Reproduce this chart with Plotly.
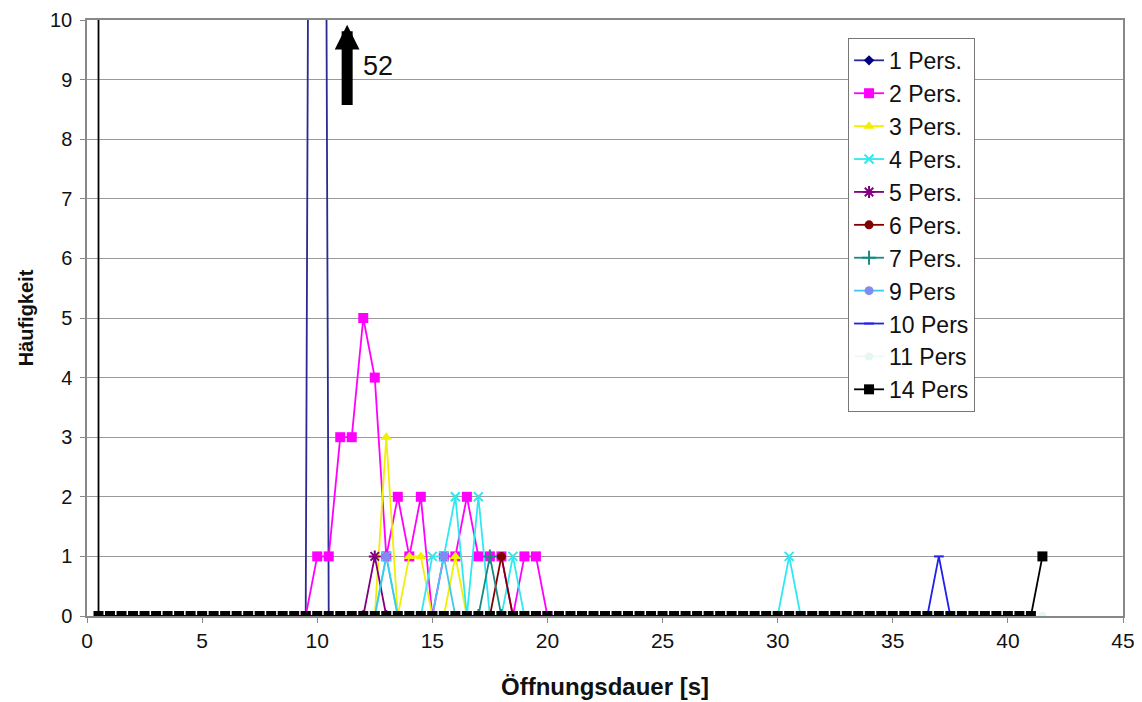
import plotly.graph_objects as go

# ---------------- data ----------------
# 1 Pers. : single huge peak (52) at 10 s, drawn off the top of the axis
x_1 = [9.5, 10.0, 10.5]
y_1 = [0, 52, 0]

x_2 = [9.5, 10.0, 10.5, 11.0, 11.5, 12.0, 12.5, 13.0, 13.5, 14.0, 14.5, 15.0,
       15.5, 16.0, 16.5, 17.0, 17.5, 18.0, 18.5, 19.0, 19.5, 20.0]
y_2 = [0, 1, 1, 3, 3, 5, 4, 1, 2, 1, 2, 0,
       1, 1, 2, 1, 1, 1, 0, 1, 1, 0]

x_3 = [12.5, 13.0, 13.5, 14.0, 14.5, 15.0, 15.5, 16.0, 16.5]
y_3 = [0, 3, 0, 1, 1, 0, 0, 1, 0]

x_4 = [12.5, 13.0, 13.5, 14.0, 14.5, 15.0, 15.5, 16.0, 16.5, 17.0, 17.5, 18.0,
       18.5, 19.0, 30.0, 30.5, 31.0]
y_4 = [0, 1, 0, 0, 0, 1, 1, 2, 0, 2, 0, 0,
       1, 0, 0, 1, 0]

x_5 = [12.0, 12.5, 13.0]
y_5 = [0, 1, 0]

x_6 = [17.5, 18.0, 18.5]
y_6 = [0, 1, 0]

x_7 = [17.0, 17.5, 18.0]
y_7 = [0, 1, 0]

x_9 = [12.5, 13.0, 13.5, 15.0, 15.5, 16.0]
y_9 = [0, 1, 0, 0, 1, 0]

x_10 = [36.5, 37.0, 37.5]
y_10 = [0, 1, 0]

x_11 = [0.5, 41.5]
y_11 = [0, 0]

x_14 = [0.5, 0.5, 1.0, 1.5, 2.0, 2.5, 3.0, 3.5, 4.0, 4.5, 5.0, 5.5, 6.0, 6.5,
        7.0, 7.5, 8.0, 8.5, 9.0, 9.5, 10.0, 10.5, 11.0, 11.5, 12.0, 12.5,
        13.0, 13.5, 14.0, 14.5, 15.0, 15.5, 16.0, 16.5, 17.0, 17.5, 18.0,
        18.5, 19.0, 19.5, 20.0, 20.5, 21.0, 21.5, 22.0, 22.5, 23.0, 23.5,
        24.0, 24.5, 25.0, 25.5, 26.0, 26.5, 27.0, 27.5, 28.0, 28.5, 29.0,
        29.5, 30.0, 30.5, 31.0, 31.5, 32.0, 32.5, 33.0, 33.5, 34.0, 34.5,
        35.0, 35.5, 36.0, 36.5, 37.0, 37.5, 38.0, 38.5, 39.0, 39.5, 40.0,
        40.5, 41.0, 41.5]
y_14 = [60, 0, 0, 0, 0, 0, 0, 0, 0, 0, 0, 0, 0, 0,
        0, 0, 0, 0, 0, 0, 0, 0, 0, 0, 0, 0,
        0, 0, 0, 0, 0, 0, 0, 0, 0, 0, 0,
        0, 0, 0, 0, 0, 0, 0, 0, 0, 0, 0,
        0, 0, 0, 0, 0, 0, 0, 0, 0, 0, 0,
        0, 0, 0, 0, 0, 0, 0, 0, 0, 0, 0,
        0, 0, 0, 0, 0, 0, 0, 0, 0, 0, 0,
        0, 0, 1]

peak_label = "52"
x_ticks = [0, 5, 10, 15, 20, 25, 30, 35, 40, 45]
y_ticks = [0, 1, 2, 3, 4, 5, 6, 7, 8, 9, 10]

# ---------------- styles ----------------
series = [
    ("1 Pers.", x_1, y_1, "#2a2a90", "diamond", 8, "#000080"),
    ("2 Pers.", x_2, y_2, "#ff00ff", "square", 10, "#ff00ff"),
    ("3 Pers.", x_3, y_3, "#f0f000", "triangle-up", 10, "#f0f000"),
    ("4 Pers.", x_4, y_4, "#30e8f0", "x-thin-open", 9, "#30e8f0"),
    ("5 Pers.", x_5, y_5, "#800080", "asterisk-open", 10, "#800080"),
    ("6 Pers.", x_6, y_6, "#800000", "circle", 9, "#800000"),
    ("7 Pers.", x_7, y_7, "#1a8a80", "cross-thin-open", 10, "#1a8a80"),
    ("9 Pers", x_9, y_9, "#40c8f0", "circle", 9, "#7f8cf0"),
    ("10 Pers", x_10, y_10, "#2020e8", "line-ew-open", 7, "#2020e8"),
    ("11 Pers", x_11, y_11, "#eef8f5", "circle", 8, "#e6f6f2"),
    ("14 Pers", x_14, y_14, "#000000", "square", 10, "#000000"),
]

fig = go.Figure()
for i, (name, xs, ys, lc, sym, ms, mc) in enumerate(series):
    marker = dict(symbol=sym, size=ms, color=mc)
    if sym.endswith("-open"):
        marker["line"] = dict(color=mc, width=2)
    fig.add_trace(go.Scatter(
        x=xs, y=ys, name=name, mode="lines+markers",
        line=dict(color=lc, width=1.8),
        marker=marker, legendgroup=f"g{i}",
    ))

FONT = "Liberation Sans, Arial, sans-serif"

# arrow indicating the off-scale value
fig.add_annotation(x=11.3, y=9.92, ax=11.3, ay=8.55, xref="x", yref="y",
                   axref="x", ayref="y", text="", showarrow=True,
                   arrowhead=2, arrowwidth=11, arrowsize=0.45,
                   arrowcolor="#000000", standoff=0)
fig.add_annotation(x=11.9, y=9.23, xref="x", yref="y", text=peak_label,
                   showarrow=False, xanchor="left",
                   font=dict(family=FONT, size=27, color="#111111"))

# the page body adds an 8 px offset; the figure size/margins compensate for it
fig.update_layout(
    width=1134, height=694,
    margin=dict(l=79, r=19, t=12, b=86),
    paper_bgcolor="white", plot_bgcolor="white",
    font=dict(family=FONT, size=20, color="#111111"),
    showlegend=True,
    legend=dict(x=0.7346, y=0.97, xanchor="left", yanchor="top",
                bgcolor="white", bordercolor="#777777", borderwidth=1,
                font=dict(family=FONT, size=23, color="#111111"),
                tracegroupgap=0, itemwidth=30),
    xaxis=dict(range=[0, 45], tickvals=x_ticks, showgrid=False,
               showline=True, linecolor="#888888", linewidth=1.5,
               mirror=True, ticks="outside", ticklen=5, tickcolor="#888888",
               zeroline=False, layer="below traces", automargin=False,
               ticklabeloverflow="allow",
               tickfont=dict(family=FONT, size=21),
               title=dict(text="<b>Öffnungsdauer [s]</b>", standoff=27,
                          font=dict(family=FONT, size=24))),
    yaxis=dict(range=[0, 10], tickvals=y_ticks, showgrid=True,
               gridcolor="#9a9a9a", gridwidth=1,
               showline=True, linecolor="#888888", linewidth=1.5,
               mirror=True, ticks="outside", ticklen=5, tickcolor="#888888",
               zeroline=False, layer="below traces", automargin=False,
               ticklabelstandoff=4, ticklabeloverflow="allow",
               tickfont=dict(family=FONT, size=20),
               title=dict(text="<b>Häufigkeit</b>", standoff=11,
                          font=dict(family=FONT, size=20))),
)

fig.write_html("out.html")
